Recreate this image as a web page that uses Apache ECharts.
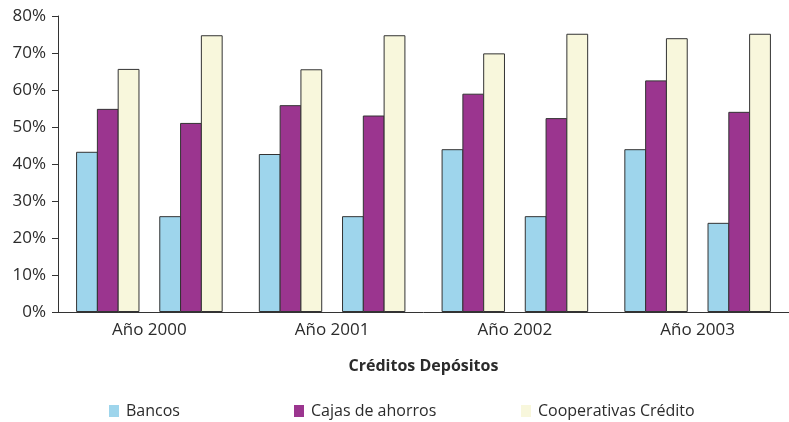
<!DOCTYPE html>
<html>
<head>
<meta charset="utf-8">
<script src="https://cdn.jsdelivr.net/npm/echarts@6/dist/echarts.min.js"></script>
<style>
  html, body { margin: 0; padding: 0; background: #fff; }
  #chart { width: 789px; height: 422px; }
</style>
</head>
<body>
<div id="chart"></div>
<script>
// Years on the category axis
const years = ['Año 2000', 'Año 2001', 'Año 2002', 'Año 2003'];

// Share (%) per institution type: credits and deposits
const bancosCreditos = [43.3, 42.7, 44.0, 44.0];
const cajasCreditos = [54.9, 55.9, 59.0, 62.6];
const coopCreditos = [65.7, 65.6, 69.9, 74.0];

const bancosDepositos = [25.9, 25.9, 25.9, 24.1];
const cajasDepositos = [51.1, 53.1, 52.4, 54.1];
const coopDepositos = [74.8, 74.8, 75.2, 75.2];

const yTicks = [0, 10, 20, 30, 40, 50, 60, 70, 80];

const names = ['Bancos', 'Cajas de ahorros', 'Cooperativas Crédito'];
const colors = ['#9ed5ec', '#9b358f', '#f8f7dc'];

const font = '"Open Sans", sans-serif';
const textColor = '#2b2b2b';
// bars of a trio share their outline, so they overlap by one pixel
const BAR_W = 21.8;
const BAR_GAP = '-4.6%';

function bar(name, data, color) {
  return {
    type: 'bar',
    name: name,
    data: data,
    barWidth: BAR_W,
    barGap: BAR_GAP,
    itemStyle: { color: color, borderColor: '#333', borderWidth: 1 },
    emphasis: { disabled: true }
  };
}

const series = [
  bar(names[0], bancosCreditos, colors[0]),
  bar(names[1], cajasCreditos, colors[1]),
  bar(names[2], coopCreditos, colors[2]),
  // empty slot separating credits from deposits
  { type: 'bar', name: 'sep', data: years.map(() => null), barWidth: BAR_W, barGap: BAR_GAP },
  bar(names[0], bancosDepositos, colors[0]),
  bar(names[1], cajasDepositos, colors[1]),
  bar(names[2], coopDepositos, colors[2])
];

function legendAt(i, left) {
  return {
    data: [names[i]],
    left: left,
    top: 398,
    itemWidth: 10,
    itemHeight: 12,
    itemGap: 8,
    icon: 'rect',
    selectedMode: false,
    itemStyle: { borderWidth: 0 },
    textStyle: { fontFamily: font, fontSize: 16, color: textColor, padding: [0, 0, 0, 2] }
  };
}

const chart = echarts.init(document.getElementById('chart'), null, { renderer: 'canvas' });
chart.setOption({
  animation: false,
  backgroundColor: '#fff',
  color: colors,
  grid: { left: 58, top: 16, width: 739, bottom: 110, containLabel: false },
  legend: [legendAt(0, 104), legendAt(1, 289), legendAt(2, 516)],
  xAxis: {
    type: 'category',
    data: years,
    name: 'Créditos Depósitos',
    nameLocation: 'middle',
    nameGap: 46,
    nameTextStyle: { fontFamily: font, fontSize: 16, fontWeight: 'bold', color: textColor },
    axisLine: { lineStyle: { color: '#333', width: 1 } },
    axisTick: { length: 5, lineStyle: { color: '#333' } },
    axisLabel: { fontFamily: font, fontSize: 17, color: textColor, margin: 10 }
  },
  yAxis: {
    type: 'value',
    min: yTicks[0],
    max: yTicks[yTicks.length - 1],
    interval: 10,
    splitLine: { show: false },
    axisLine: { show: true, lineStyle: { color: '#333', width: 1 } },
    axisTick: { show: true, length: 6, lineStyle: { color: '#333' } },
    axisLabel: { fontFamily: font, fontSize: 17, color: textColor, margin: 12, formatter: '{value}%' }
  },
  series: series
});
</script>
</body>
</html>
